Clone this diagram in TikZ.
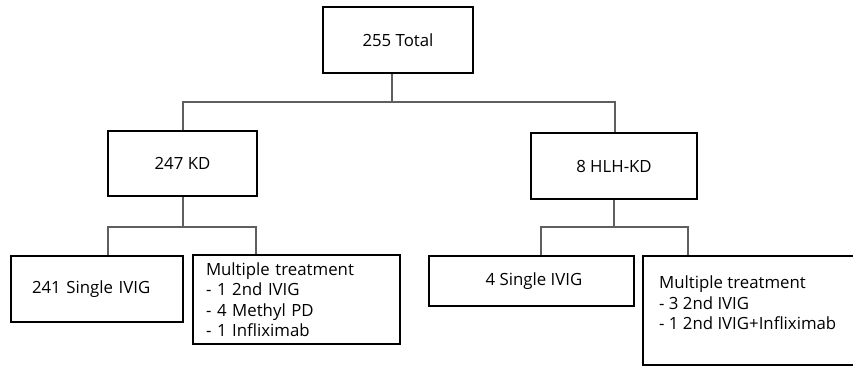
\documentclass[tikz,border=0pt]{standalone}
\usepackage{fontspec}
\setmainfont{Open Sans}
\definecolor{conn}{RGB}{95,95,95}
\begin{document}
\begin{tikzpicture}[x=1pt,y=-1pt,
  box/.style={draw=black, line width=2.8pt, rectangle, inner sep=0pt, font=\fontsize{16.8}{20.5}\selectfont},
  txt/.style={inner sep=0pt, font=\fontsize{16.8}{20.5}\selectfont, align=left},
  conn/.style={draw=conn, line width=1.6pt}]
\useasboundingbox (0,0) rectangle (853,367);
% boxes
\node[box, minimum width=150pt, minimum height=66pt] (tot) at (398,40) {255 Total};
\node[box, minimum width=149pt, minimum height=65pt] (kd) at (182.5,163.5) {247 KD};
\node[box, minimum width=166pt, minimum height=66pt] (hlh) at (614,166) {8 HLH-KD};
\node[box, minimum width=172pt, minimum height=66pt, text width=130pt, inner xsep=21pt, align=left] (s1) at (97,289) {241 Single IVIG};
\node[box, minimum width=207pt, minimum height=89pt, text width=181pt, inner xsep=13pt, align=left] (m1) at (296.5,299.5) {Multiple treatment\\- 1 2nd IVIG\\- 4 Methyl PD\\- 1 Infliximab};
\node[box, minimum width=205pt, minimum height=50pt] (s2) at (531.5,281) {\hspace{5pt}4 Single IVIG};
\node[box, minimum width=227pt, minimum height=109pt] (m2) at (756.5,310.5) {};
\node[txt, anchor=west] (m2t) at (659,303) {Multiple treatment\\- 3 2nd IVIG\\- 1 2nd IVIG+Infliximab};
% junction coordinates
\coordinate (j0) at (392,102);
\coordinate (jl) at (183,102);
\coordinate (jr) at (615,102);
\coordinate (k0) at (183,227);
\coordinate (kl) at (108,227);
\coordinate (kr) at (256,227);
\coordinate (h0) at (614,227);
\coordinate (hl) at (541,227);
\coordinate (hr) at (688,227);
% connectors
\draw[conn] (tot.south -| j0) -- (j0);
\draw[conn] (jl |- kd.north) -- (jl) -- (jr) -- (jr |- hlh.north);
\draw[conn] (kd.south -| k0) -- (k0);
\draw[conn] (kl |- s1.north) -- (kl) -- (kr) -- (kr |- m1.north);
\draw[conn] (hlh.south -| h0) -- (h0);
\draw[conn] (hl |- s2.north) -- (hl) -- (hr) -- (hr |- m2.north);
\end{tikzpicture}
\end{document}
